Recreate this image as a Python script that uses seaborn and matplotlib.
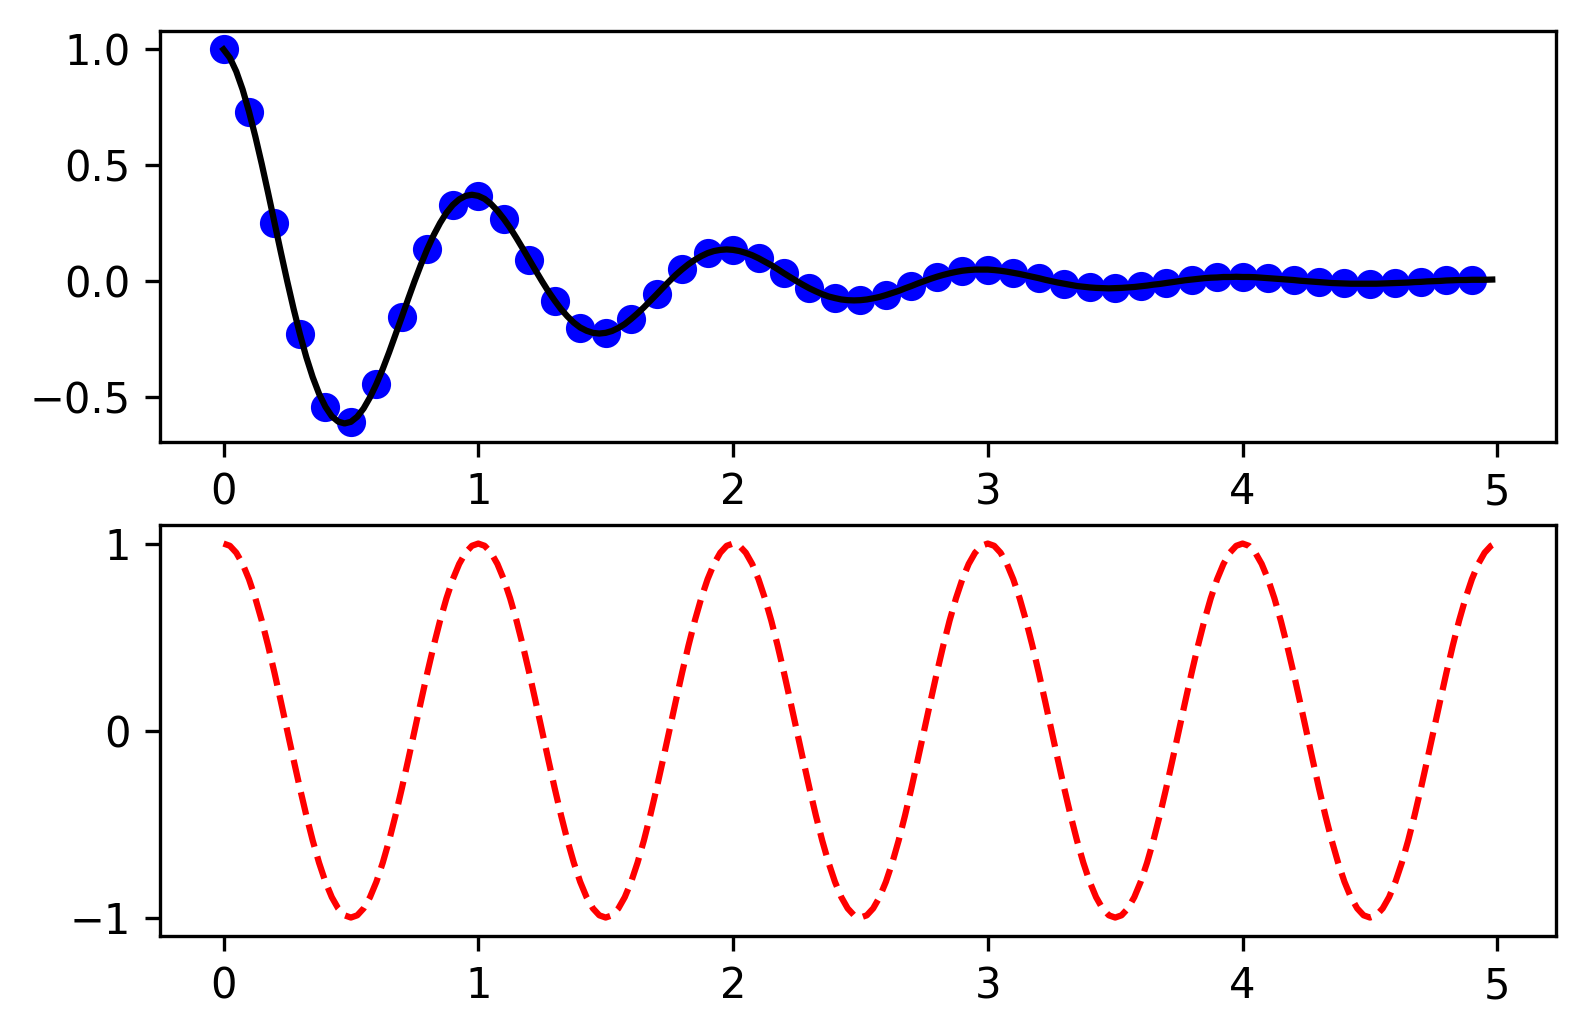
import numpy as np
import pandas as pd
import matplotlib
matplotlib.use("Agg")
import matplotlib.pyplot as plt
import seaborn as sns

# damped oscillation, sampled every 0.1 (the blue dots)
dot_t = [0.0, 0.1, 0.2, 0.3, 0.4, 0.5, 0.6, 0.7, 0.8, 0.9,
         1.0, 1.1, 1.2, 1.3, 1.4, 1.5, 1.6, 1.7, 1.8, 1.9,
         2.0, 2.1, 2.2, 2.3, 2.4, 2.5, 2.6, 2.7, 2.8, 2.9,
         3.0, 3.1, 3.2, 3.3, 3.4, 3.5, 3.6, 3.7, 3.8, 3.9,
         4.0, 4.1, 4.2, 4.3, 4.4, 4.5, 4.6, 4.7, 4.8, 4.9]
dot_y = [1.000, 0.732, 0.253, -0.229, -0.542, -0.607, -0.444, -0.154, 0.139, 0.329,
         0.368, 0.269, 0.093, -0.084, -0.200, -0.223, -0.163, -0.057, 0.051, 0.121,
         0.135, 0.099, 0.034, -0.031, -0.073, -0.082, -0.060, -0.021, 0.019, 0.045,
         0.050, 0.036, 0.013, -0.011, -0.027, -0.030, -0.022, -0.008, 0.007, 0.016,
         0.018, 0.013, 0.005, -0.004, -0.010, -0.011, -0.008, -0.003, 0.003, 0.006]

# same curve read more finely (black line): every 0.025, last point at 4.98
line_t = [round(v, 3) for v in np.arange(0, 5.0, 0.025)] + [4.98]
line_y = [
    1.000, 0.964, 0.905, 0.827, 0.732, 0.624, 0.506, 0.381, 0.253, 0.125,
    0.000, -0.119, -0.229, -0.328, -0.414, -0.486, -0.542, -0.583, -0.606, -0.614,
    -0.607, -0.585, -0.549, -0.501, -0.444, -0.379, -0.307, -0.231, -0.154, -0.076,
    0.000, 0.072, 0.139, 0.199, 0.251, 0.295, 0.329, 0.353, 0.368, 0.373,
    0.368, 0.355, 0.333, 0.304, 0.269, 0.230, 0.186, 0.140, 0.093, 0.046,
    0.000, -0.044, -0.084, -0.121, -0.152, -0.179, -0.200, -0.214, -0.223, -0.226,
    -0.223, -0.215, -0.202, -0.185, -0.163, -0.139, -0.113, -0.085, -0.057, -0.028,
    0.000, 0.027, 0.051, 0.073, 0.092, 0.108, 0.121, 0.130, 0.135, 0.137,
    0.135, 0.130, 0.122, 0.112, 0.099, 0.084, 0.069, 0.052, 0.034, 0.017,
    0.000, -0.016, -0.031, -0.044, -0.056, -0.066, -0.073, -0.079, -0.082, -0.083,
    -0.082, -0.079, -0.074, -0.068, -0.060, -0.051, -0.042, -0.031, -0.021, -0.010,
    0.000, 0.010, 0.019, 0.027, 0.034, 0.040, 0.045, 0.048, 0.050, 0.050,
    0.050, 0.048, 0.045, 0.041, 0.036, 0.031, 0.025, 0.019, 0.013, 0.006,
    0.000, -0.006, -0.011, -0.016, -0.021, -0.024, -0.027, -0.029, -0.030, -0.031,
    -0.030, -0.029, -0.027, -0.025, -0.022, -0.019, -0.015, -0.012, -0.008, -0.004,
    0.000, 0.004, 0.007, 0.010, 0.013, 0.015, 0.016, 0.018, 0.018, 0.019,
    0.018, 0.018, 0.017, 0.015, 0.013, 0.011, 0.009, 0.007, 0.005, 0.002,
    0.000, -0.002, -0.004, -0.006, -0.008, -0.009, -0.010, -0.011, -0.011, -0.011,
    -0.011, -0.011, -0.010, -0.009, -0.008, -0.007, -0.006, -0.004, -0.003, -0.001,
    0.000, 0.001, 0.003, 0.004, 0.005, 0.005, 0.006, 0.006, 0.006, 0.007,
    0.007]

# plain cosine (red dashed), same x grid
cos_y = [
    1.000, 0.988, 0.951, 0.891, 0.809, 0.707, 0.588, 0.454, 0.309, 0.156,
    0.000, -0.156, -0.309, -0.454, -0.588, -0.707, -0.809, -0.891, -0.951, -0.988,
    -1.000, -0.988, -0.951, -0.891, -0.809, -0.707, -0.588, -0.454, -0.309, -0.156,
    0.000, 0.156, 0.309, 0.454, 0.588, 0.707, 0.809, 0.891, 0.951, 0.988,
    1.000, 0.988, 0.951, 0.891, 0.809, 0.707, 0.588, 0.454, 0.309, 0.156,
    0.000, -0.156, -0.309, -0.454, -0.588, -0.707, -0.809, -0.891, -0.951, -0.988,
    -1.000, -0.988, -0.951, -0.891, -0.809, -0.707, -0.588, -0.454, -0.309, -0.156,
    0.000, 0.156, 0.309, 0.454, 0.588, 0.707, 0.809, 0.891, 0.951, 0.988,
    1.000, 0.988, 0.951, 0.891, 0.809, 0.707, 0.588, 0.454, 0.309, 0.156,
    0.000, -0.156, -0.309, -0.454, -0.588, -0.707, -0.809, -0.891, -0.951, -0.988,
    -1.000, -0.988, -0.951, -0.891, -0.809, -0.707, -0.588, -0.454, -0.309, -0.156,
    0.000, 0.156, 0.309, 0.454, 0.588, 0.707, 0.809, 0.891, 0.951, 0.988,
    1.000, 0.988, 0.951, 0.891, 0.809, 0.707, 0.588, 0.454, 0.309, 0.156,
    0.000, -0.156, -0.309, -0.454, -0.588, -0.707, -0.809, -0.891, -0.951, -0.988,
    -1.000, -0.988, -0.951, -0.891, -0.809, -0.707, -0.588, -0.454, -0.309, -0.156,
    0.000, 0.156, 0.309, 0.454, 0.588, 0.707, 0.809, 0.891, 0.951, 0.988,
    1.000, 0.988, 0.951, 0.891, 0.809, 0.707, 0.588, 0.454, 0.309, 0.156,
    0.000, -0.156, -0.309, -0.454, -0.588, -0.707, -0.809, -0.891, -0.951, -0.988,
    -1.000, -0.988, -0.951, -0.891, -0.809, -0.707, -0.588, -0.454, -0.309, -0.156,
    0.000, 0.156, 0.309, 0.454, 0.588, 0.707, 0.809, 0.891, 0.951, 0.988,
    0.992]

dots = pd.DataFrame({"t": dot_t, "y": dot_y})
curve = pd.DataFrame({"t": line_t, "y": line_y, "c": cos_y})

fig, (ax1, ax2) = plt.subplots(2, 1, figsize=(1585 / 300, 1035 / 300), dpi=300)
fig.subplots_adjust(left=0.101, right=0.9815, top=0.9703, bottom=0.0954, hspace=0.201)

sns.scatterplot(data=dots, x="t", y="y", ax=ax1, color="blue", s=36,
                edgecolor="blue", linewidth=1, zorder=2)
sns.lineplot(data=curve, x="t", y="y", ax=ax1, color="black", linewidth=1.5, zorder=3)
ax1.set_xlabel("")
ax1.set_ylabel("")

sns.lineplot(data=curve, x="t", y="c", ax=ax2, color="red", linewidth=1.5, linestyle="--")
ax2.set_xlabel("")
ax2.set_ylabel("")
ax2.set_yticks([-1, 0, 1])

for ax in (ax1, ax2):
    ax.set_xticks([0, 1, 2, 3, 4, 5])

plt.savefig("out.png", dpi=300)
